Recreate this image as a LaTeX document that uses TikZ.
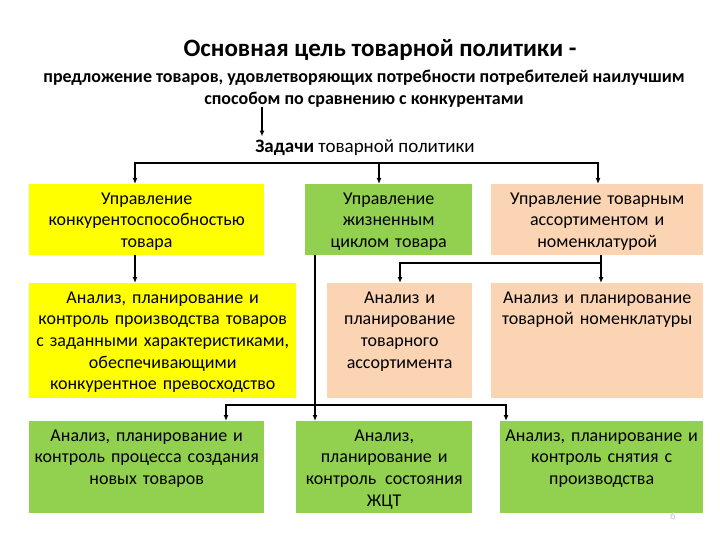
\documentclass[tikz,border=0pt]{standalone}
\usepackage{fontspec}
\setmainfont{Carlito}
\usetikzlibrary{arrows.meta}
\definecolor{yel}{HTML}{FFFF00}
\definecolor{grn}{HTML}{92D050}
\definecolor{pch}{HTML}{FBD4B4}
\begin{document}
\begin{tikzpicture}[x=1pt,y=-1pt,
  box/.style={draw=none, inner sep=0pt, anchor=north west},
  txt/.style={inner sep=0pt, anchor=north, align=center, font=\fontsize{18}{21.6}\selectfont},
  con/.style={line width=1.6pt},
  arr/.style={con, -{Latex[length=6pt,width=5pt]}},
]
\useasboundingbox (0,0) rectangle (720,540);
\fill[white] (0,0) rectangle (720,540);

\node[font=\fontsize{25}{29}\selectfont\bfseries] (title) at (380,50) {Основная цель товарной политики -};
\node[font=\fontsize{18}{22}\selectfont\bfseries, align=center] (sub) at (364,89) {предложение товаров, удовлетворяющих потребности потребителей наилучшим\\способом по сравнению с конкурентами};
\node[font=\fontsize{19}{22}\selectfont] (tasks) at (365,148) {\textbf{Задачи} товарной политики};

% boxes
\node[box, fill=yel, minimum width=235pt, minimum height=71pt] (b11) at (29,184) {};
\node[box, fill=grn, minimum width=167pt, minimum height=71pt] (b12) at (305,184) {};
\node[box, fill=pch, minimum width=212pt, minimum height=71pt] (b13) at (491,184) {};
\node[box, fill=yel, minimum width=267pt, minimum height=115pt] (b21) at (29,283) {};
\node[box, fill=pch, minimum width=145pt, minimum height=115pt] (b22) at (327,283) {};
\node[box, fill=pch, minimum width=212pt, minimum height=115pt] (b23) at (491,283) {};
\node[box, fill=grn, minimum width=235pt, minimum height=92pt] (b31) at (29,421) {};
\node[box, fill=grn, minimum width=176pt, minimum height=92pt] (b32) at (296,421) {};
\node[box, fill=grn, minimum width=203pt, minimum height=92pt] (b33) at (500,421) {};

% texts
\node[txt, text width=231pt] (t11) at ([yshift=-5pt]b11.north) {\strut Управление\\конкурентоспособностью\\товара};
\node[txt, text width=163pt] (t12) at ([yshift=-5pt]b12.north) {\strut Управление\\жизненным\\циклом товара};
\node[txt, text width=208pt] (t13) at ([yshift=-5pt]b13.north) {\strut Управление товарным\\ассортиментом и\\номенклатурой};
\node[txt, text width=263pt] (t21) at ([yshift=-5pt]b21.north) {\strut Анализ, планирование и\\контроль производства товаров\\с заданными характеристиками,\\обеспечивающими\\конкурентное превосходство};
\node[txt, text width=141pt] (t22) at ([yshift=-5pt]b22.north) {\strut Анализ и\\планирование\\товарного\\ассортимента};
\node[txt, text width=208pt] (t23) at ([yshift=-5pt]b23.north) {\strut Анализ и планирование\\товарной номенклатуры};
\node[txt, text width=231pt] (t31) at ([yshift=-5pt]b31.north) {\strut Анализ, планирование и\\контроль процесса создания\\новых товаров};
\node[txt, text width=172pt] (t32) at ([yshift=-5pt]b32.north) {\strut Анализ,\\планирование и\\контроль\enspace состояния\\ЖЦТ};
\node[txt, text width=199pt] (t33) at ([yshift=-5pt]b33.north) {\strut Анализ, планирование и\\контроль снятия с\\производства};

% connectors
\coordinate (a1) at (262,107);
\draw[arr] (a1) -- (a1 |- tasks.north);

\coordinate (tl) at (135,163);
\coordinate (tm) at (379,163);
\coordinate (tr) at (598,163);
\draw[arr] (tm) -- (tl) -- (tl |- b11.north);
\draw[arr] (tm) -- (tr) -- (tr |- b13.north);
\draw[arr] (tm) -- (tm |- b12.north);

\draw[arr] (b11.south -| tl) -- (tl |- b21.north);

\coordinate (pv) at (601,263);
\coordinate (pl) at (400,263);
\draw[arr] (b13.south -| pv) -- (pv |- b23.north);
\draw[arr] (pv) -- (pl) -- (pl |- b22.north);

\coordinate (gv) at (315,405);
\coordinate (gl) at (226,405);
\coordinate (gr) at (506,405);
\draw[arr] (b12.south -| gv) -- (gv |- b32.north);
\draw[arr] (gv) -- (gl) -- (gl |- b31.north);
\draw[arr] (gv) -- (gr) -- (gr |- b33.north);

\node[font=\fontsize{11}{13}\selectfont, text=gray!45] (pg) at (673,516) {6};
\end{tikzpicture}
\end{document}
